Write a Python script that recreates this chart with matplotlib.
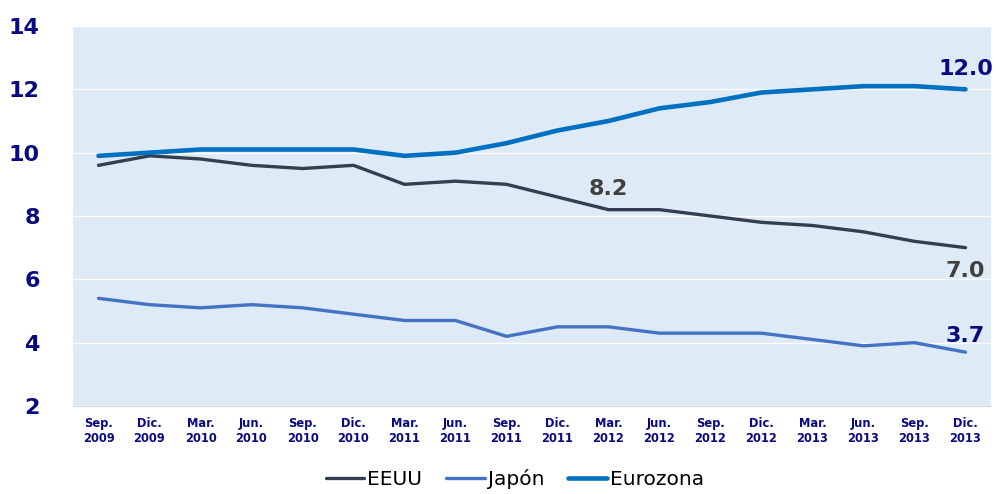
import matplotlib
matplotlib.use("Agg")
import matplotlib.pyplot as plt

categories = ["Sep.\n2009", "Dic.\n2009", "Mar.\n2010", "Jun.\n2010", "Sep.\n2010", "Dic.\n2010",
              "Mar.\n2011", "Jun.\n2011", "Sep.\n2011", "Dic.\n2011", "Mar.\n2012", "Jun.\n2012",
              "Sep.\n2012", "Dic.\n2012", "Mar.\n2013", "Jun.\n2013", "Sep.\n2013", "Dic.\n2013"]
eeuu = [9.6, 9.9, 9.8, 9.6, 9.5, 9.6, 9.0, 9.1, 9.0, 8.6, 8.2, 8.2, 8.0, 7.8, 7.7, 7.5, 7.2, 7.0]
japon = [5.4, 5.2, 5.1, 5.2, 5.1, 4.9, 4.7, 4.7, 4.2, 4.5, 4.5, 4.3, 4.3, 4.3, 4.1, 3.9, 4.0, 3.7]
eurozona = [9.9, 10.0, 10.1, 10.1, 10.1, 10.1, 9.9, 10.0, 10.3, 10.7, 11.0, 11.4, 11.6, 11.9, 12.0, 12.1, 12.1, 12.0]
yticks = [2, 4, 6, 8, 10, 12, 14]

navy = "#0A0A80"
fig = plt.figure(figsize=(9.96, 4.94), dpi=100)
ax = fig.add_axes([73/996, 88/494, 918/996, 380/494])
ax.set_facecolor("#DEEAF6")
x = list(range(len(categories)))
ax.plot(x, eeuu, color="#333F50", lw=2.4, label="EEUU", solid_capstyle="round")
ax.plot(x, japon, color="#4472C4", lw=2.4, label="Japón", solid_capstyle="round")
ax.plot(x, eurozona, color="#0070C0", lw=3.3, label="Eurozona", solid_capstyle="round")

ax.set_xlim(-0.5, len(categories) - 0.5)
ax.set_ylim(2, 14)
ax.set_yticks(yticks)
ax.set_xticks(x)
ax.set_xticklabels(categories, fontsize=8.3, fontweight="bold", color=navy, linespacing=1.15)
ax.tick_params(axis="y", length=0, pad=24, labelsize=16, labelcolor=navy)
for t in ax.get_yticklabels():
    t.set_fontweight("bold")
ax.tick_params(axis="x", length=0, pad=8)
ax.grid(axis="y", color="white", lw=1)
ax.set_axisbelow(True)
for s in ["top", "left", "right"]:
    ax.spines[s].set_visible(False)
ax.spines["bottom"].set_color("#D9D9D9")

ax.annotate("12.0", (x[-1], eurozona[-1]), xytext=(0, 14.5), textcoords="offset points",
            ha="center", va="center", fontsize=16, fontweight="bold", color=navy)
ax.annotate("8.2", (x[10], eeuu[10]), xytext=(0, 15), textcoords="offset points",
            ha="center", va="center", fontsize=16, fontweight="bold", color="#404040")
ax.annotate("7.0", (x[-1], eeuu[-1]), xytext=(0, -16.5), textcoords="offset points",
            ha="center", va="center", fontsize=16, fontweight="bold", color="#404040")
ax.annotate("3.7", (x[-1], japon[-1]), xytext=(0, 12), textcoords="offset points",
            ha="center", va="center", fontsize=16, fontweight="bold", color=navy)

fig.legend(loc="center", bbox_to_anchor=(0.517, 0.03), ncol=3, frameon=False,
           fontsize=14.5, handlelength=1.9, handletextpad=0.15, columnspacing=1.2)

fig.savefig("out.png", dpi=100)
